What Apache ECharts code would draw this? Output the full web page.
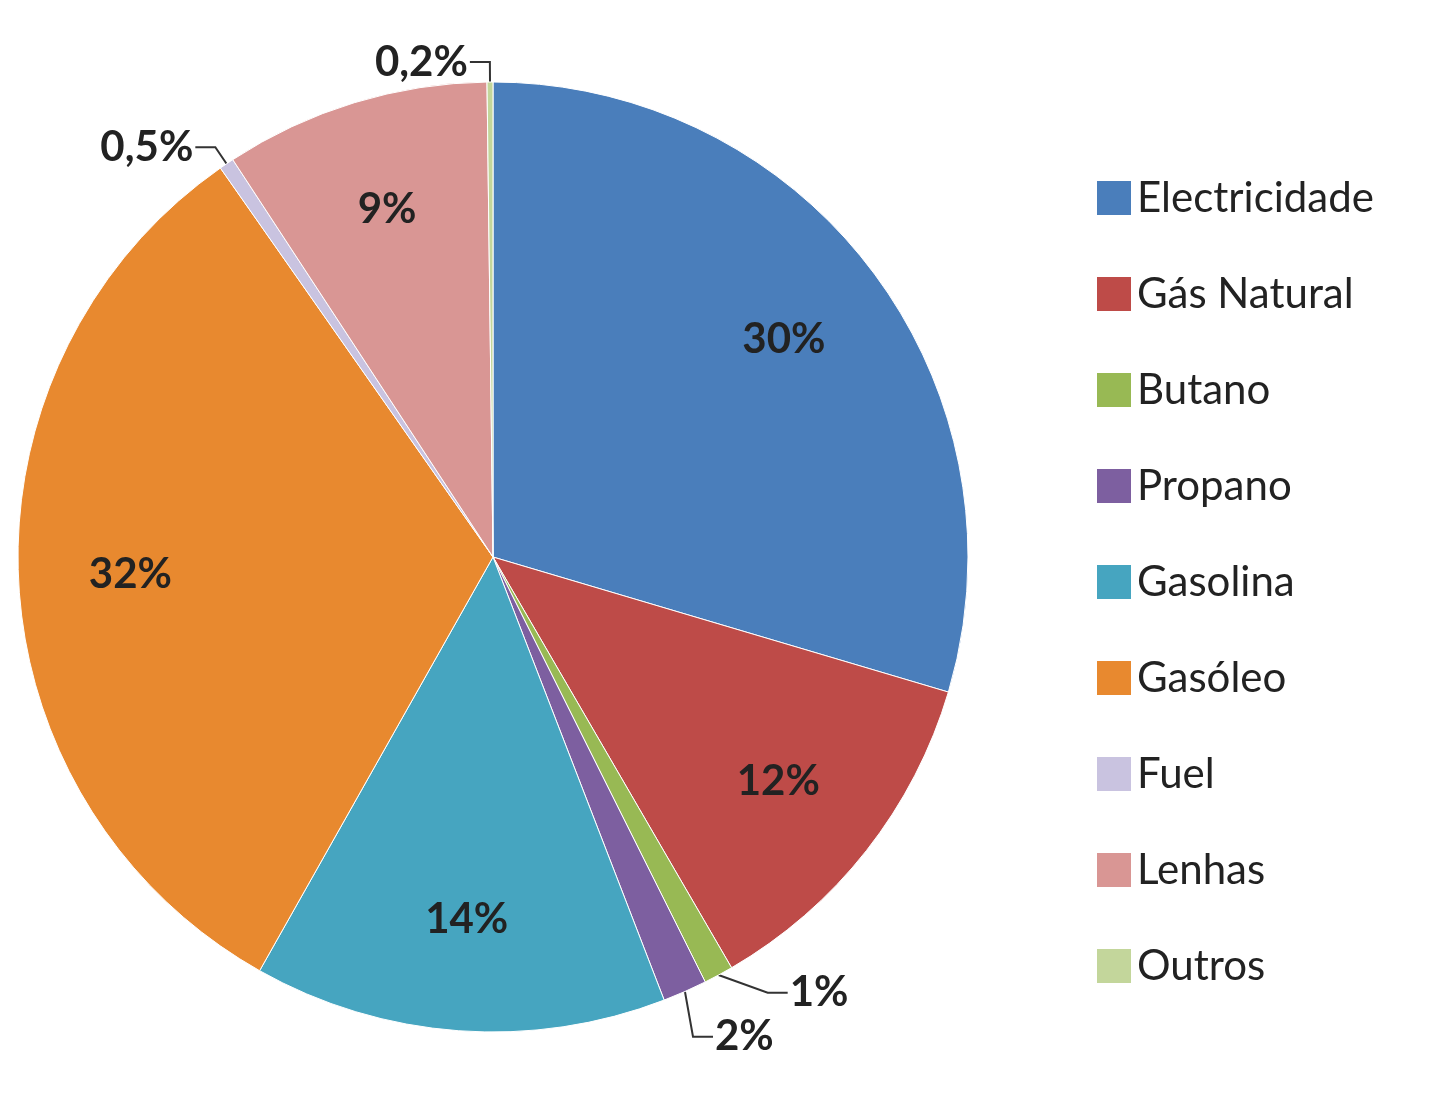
<!DOCTYPE html>
<html><head><meta charset="utf-8">
<script src="https://cdn.jsdelivr.net/npm/echarts@6/dist/echarts.min.js"></script>
<style>html,body{margin:0;background:#fff}#c{width:1455px;height:1103px}</style>
</head><body><div id="c"></div>
<script>
const categories=['Electricidade','Gás Natural','Butano','Propano','Gasolina','Gasóleo','Fuel','Lenhas','Outros'];
const values=[29.5,12,1,1.5,14,32,0.5,9,0.2];
const labelTexts=['30%','12%','1%','2%','14%','32%','0,5%','9%','0,2%'];
const colors=['#4a7ebb','#be4b48','#98b954','#7d5fa0','#46a5c0','#e8892f','#c9c3e0','#d99694','#c3d69b'];
const outside=[false,false,true,true,false,false,true,false,true];
const txt={fontSize:42,color:'#222',fontFamily:'Lato',fontWeight:'bold'};
const chart=echarts.init(document.getElementById('c'));
chart.setOption({
 animation:false,
 color:colors,
 legend:{orient:'vertical',left:1090,top:172,itemWidth:36,itemHeight:36,itemGap:54,
  data:categories,icon:'rect',textStyle:{fontSize:42,color:'#222',fontFamily:'Lato'}},
 series:[{type:'pie',center:[493,557],radius:[0,475],startAngle:90,clockwise:true,
  itemStyle:{borderColor:'#fff',borderWidth:1},
  data:categories.map((n,i)=>({name:n,value:values[i],
   label:{show:outside[i],position:'outside',distanceToLabelLine:2},
   labelLine:{show:outside[i],length:20,length2:20,lineStyle:{color:'#333',width:2}}})),
  label:Object.assign({formatter:p=>labelTexts[p.dataIndex]},txt)
 },{type:'pie',center:[493,557],radius:[0,720],startAngle:90,clockwise:true,silent:true,
  legendHoverLink:false,
  itemStyle:{color:'rgba(0,0,0,0)'},
  data:categories.map((n,i)=>({name:n+' ',value:values[i],
   label:{show:!outside[i],position:'inside'}})),
  label:Object.assign({formatter:p=>labelTexts[p.dataIndex]},txt)
 }]
});
</script></body></html>
